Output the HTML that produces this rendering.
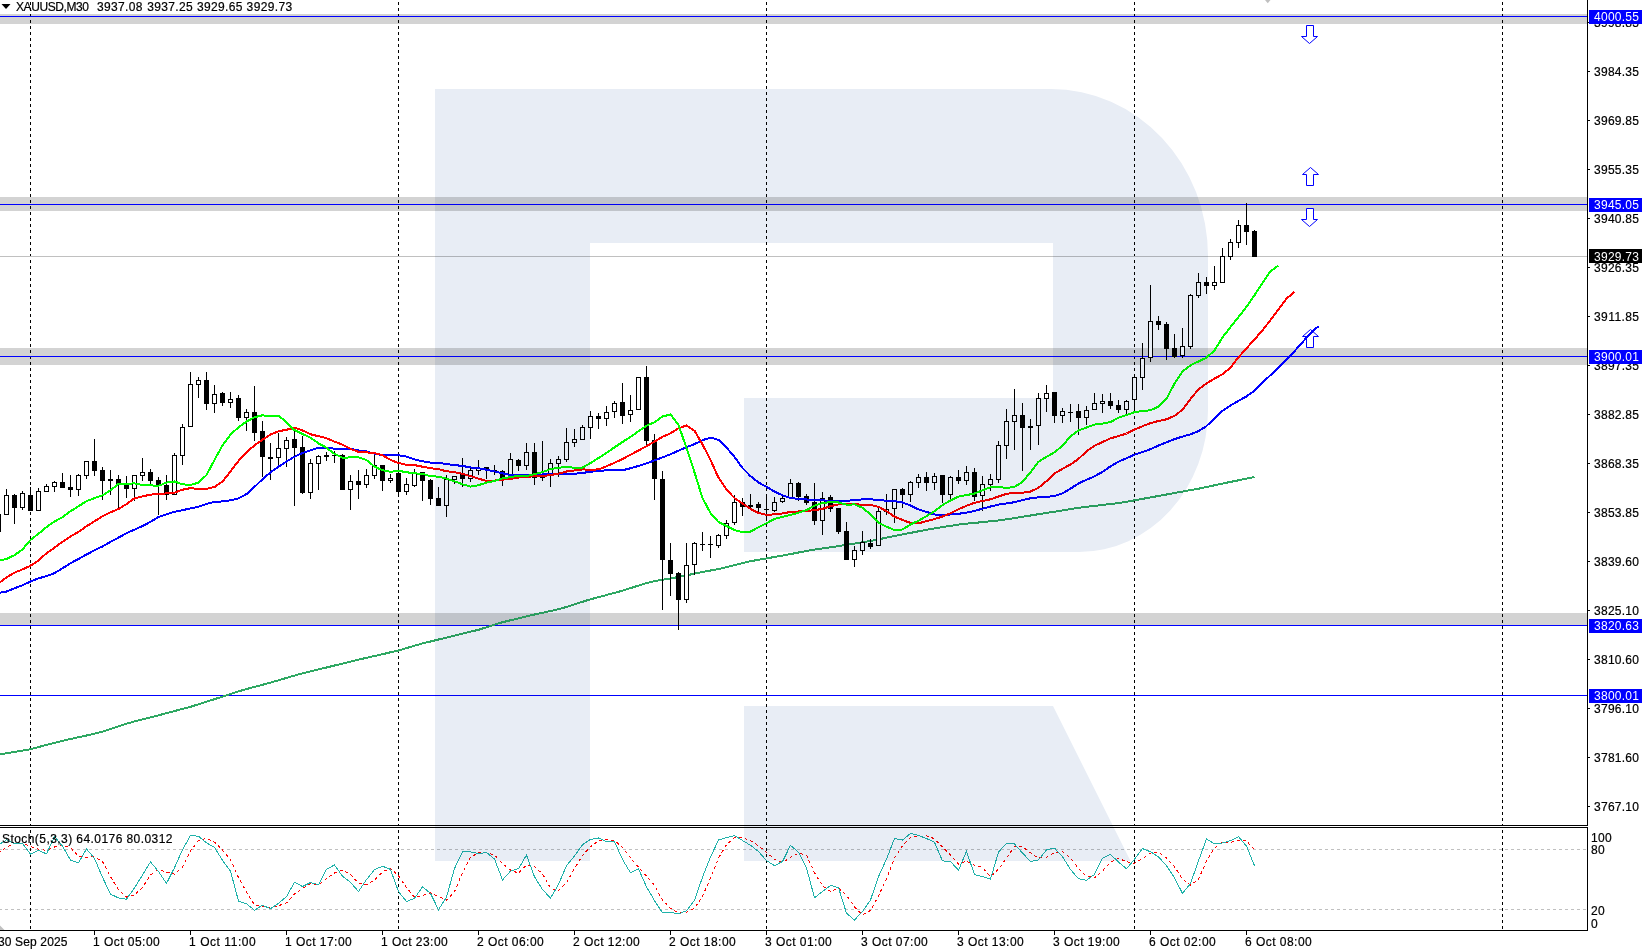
<!DOCTYPE html>
<html><head><meta charset="utf-8"><title>XAUUSD,M30</title>
<style>html,body{margin:0;padding:0;background:#fff;width:1642px;height:951px;overflow:hidden;position:relative}</style>
</head><body>
<svg width="1642" height="951" viewBox="0 0 1642 951" style="position:absolute;left:0;top:0"><rect x="0" y="0" width="1642" height="951" fill="#fff"/><rect x="0" y="14" width="1587" height="10" fill="#d3d3d3"/><rect x="0" y="197" width="1587" height="14" fill="#d3d3d3"/><rect x="0" y="348" width="1587" height="17" fill="#d3d3d3"/><rect x="0" y="613" width="1587" height="12" fill="#d3d3d3"/><g shape-rendering="crispEdges"><line x1="0" y1="849.5" x2="1587" y2="849.5" stroke="#c0c0c0" stroke-width="1" stroke-dasharray="3 3" stroke-dashoffset="1"/><line x1="0" y1="909.5" x2="1587" y2="909.5" stroke="#c0c0c0" stroke-width="1" stroke-dasharray="3 3" stroke-dashoffset="1"/></g><line x1="30.5" y1="0" x2="30.5" y2="825" stroke="#000" stroke-width="1" stroke-dasharray="3 3" stroke-dashoffset="4" shape-rendering="crispEdges"/><line x1="30.5" y1="828" x2="30.5" y2="930" stroke="#000" stroke-width="1" stroke-dasharray="3 3" stroke-dashoffset="4" shape-rendering="crispEdges"/><line x1="398.5" y1="0" x2="398.5" y2="825" stroke="#000" stroke-width="1" stroke-dasharray="3 3" stroke-dashoffset="4" shape-rendering="crispEdges"/><line x1="398.5" y1="828" x2="398.5" y2="930" stroke="#000" stroke-width="1" stroke-dasharray="3 3" stroke-dashoffset="4" shape-rendering="crispEdges"/><line x1="766.5" y1="0" x2="766.5" y2="825" stroke="#000" stroke-width="1" stroke-dasharray="3 3" stroke-dashoffset="4" shape-rendering="crispEdges"/><line x1="766.5" y1="828" x2="766.5" y2="930" stroke="#000" stroke-width="1" stroke-dasharray="3 3" stroke-dashoffset="4" shape-rendering="crispEdges"/><line x1="1134.5" y1="0" x2="1134.5" y2="825" stroke="#000" stroke-width="1" stroke-dasharray="3 3" stroke-dashoffset="4" shape-rendering="crispEdges"/><line x1="1134.5" y1="828" x2="1134.5" y2="930" stroke="#000" stroke-width="1" stroke-dasharray="3 3" stroke-dashoffset="4" shape-rendering="crispEdges"/><line x1="1502.5" y1="0" x2="1502.5" y2="825" stroke="#000" stroke-width="1" stroke-dasharray="3 3" stroke-dashoffset="4" shape-rendering="crispEdges"/><line x1="1502.5" y1="828" x2="1502.5" y2="930" stroke="#000" stroke-width="1" stroke-dasharray="3 3" stroke-dashoffset="4" shape-rendering="crispEdges"/><g shape-rendering="crispEdges"><rect x="0" y="16" width="1587" height="1" fill="#0000ff"/><rect x="0" y="204" width="1587" height="1" fill="#0000ff"/><rect x="0" y="356" width="1587" height="1" fill="#0000ff"/><rect x="0" y="625" width="1587" height="1" fill="#0000ff"/><rect x="0" y="695" width="1587" height="1" fill="#0000ff"/><rect x="0" y="256" width="1587" height="1" fill="#c0c0c0"/></g><polyline points="-9.5,756.0 -1.5,754.6 6.5,753.3 14.5,751.9 22.5,750.6 30.5,749.2 38.5,747.1 46.5,744.9 54.5,742.8 62.5,740.8 70.5,739.0 78.5,737.2 86.5,735.5 94.5,733.7 102.5,731.7 110.5,729.1 118.5,726.4 126.5,723.7 134.5,721.4 142.5,719.4 150.5,717.3 158.5,715.3 166.5,713.2 174.5,711.1 182.5,708.9 190.5,706.8 198.5,704.3 206.5,701.7 214.5,699.2 222.5,696.6 230.5,694.0 238.5,691.4 246.5,689.1 254.5,686.9 262.5,684.8 270.5,682.6 278.5,680.3 286.5,677.9 294.5,675.6 302.5,673.3 310.5,671.4 318.5,669.4 326.5,667.5 334.5,665.5 342.5,663.6 350.5,661.6 358.5,659.7 366.5,657.8 374.5,656.0 382.5,654.2 390.5,652.3 398.5,650.5 406.5,648.1 414.5,645.7 422.5,643.4 430.5,641.5 438.5,639.5 446.5,637.6 454.5,635.6 462.5,633.7 470.5,631.7 478.5,629.8 486.5,627.3 494.5,624.7 502.5,622.2 510.5,620.3 518.5,618.3 526.5,616.4 534.5,614.5 542.5,612.8 550.5,611.0 558.5,609.2 566.5,606.9 574.5,604.4 582.5,601.8 590.5,599.3 598.5,597.2 606.5,595.0 614.5,592.9 622.5,590.7 630.5,588.1 638.5,585.6 646.5,583.1 654.5,581.1 662.5,579.8 670.5,578.4 678.5,577.0 686.5,575.4 694.5,573.6 702.5,571.9 710.5,570.5 718.5,569.1 726.5,567.2 734.5,565.2 742.5,563.2 750.5,561.2 758.5,559.8 766.5,558.4 774.5,557.0 782.5,555.6 790.5,554.1 798.5,552.5 806.5,551.0 814.5,549.6 822.5,548.4 830.5,547.3 838.5,546.1 846.5,544.8 854.5,543.6 862.5,542.3 870.5,541.0 878.5,539.3 886.5,537.7 894.5,536.0 902.5,534.4 910.5,532.9 918.5,531.3 926.5,529.8 934.5,528.4 942.5,527.1 950.5,525.9 958.5,524.6 966.5,523.7 974.5,522.9 982.5,522.1 990.5,521.3 998.5,520.5 1006.5,519.3 1014.5,518.1 1022.5,516.8 1030.5,515.5 1038.5,514.2 1046.5,512.9 1054.5,511.7 1062.5,510.4 1070.5,509.1 1078.5,507.8 1086.5,506.8 1094.5,505.9 1102.5,505.0 1110.5,504.0 1118.5,503.1 1126.5,501.8 1134.5,500.3 1142.5,498.9 1150.5,497.4 1158.5,496.0 1166.5,494.5 1174.5,493.0 1182.5,491.6 1190.5,490.1 1198.5,488.7 1206.5,487.0 1214.5,485.3 1222.5,483.6 1230.5,481.9 1238.5,480.3 1246.5,478.6 1254.5,477.0" fill="none" stroke="#2ea862" stroke-width="2" stroke-linejoin="round" shape-rendering="crispEdges"/><g shape-rendering="crispEdges"><rect x="-2" y="514" width="1" height="19" fill="#000"/><rect x="-4" y="514" width="5" height="18" fill="#000"/><rect x="6" y="489" width="1" height="26" fill="#000"/><rect x="4" y="495" width="5" height="20" fill="#000"/><rect x="5" y="496" width="3" height="18" fill="#fff"/><rect x="14" y="494" width="1" height="30" fill="#000"/><rect x="12" y="495" width="5" height="13" fill="#000"/><rect x="22" y="491" width="1" height="19" fill="#000"/><rect x="20" y="493" width="5" height="15" fill="#000"/><rect x="21" y="494" width="3" height="13" fill="#fff"/><rect x="30" y="487" width="1" height="24" fill="#000"/><rect x="28" y="495" width="5" height="16" fill="#000"/><rect x="38" y="488" width="1" height="23" fill="#000"/><rect x="36" y="491" width="5" height="20" fill="#000"/><rect x="37" y="492" width="3" height="18" fill="#fff"/><rect x="46" y="484" width="1" height="8" fill="#000"/><rect x="44" y="486" width="5" height="6" fill="#000"/><rect x="45" y="487" width="3" height="4" fill="#fff"/><rect x="54" y="481" width="1" height="11" fill="#000"/><rect x="52" y="482" width="5" height="5" fill="#000"/><rect x="53" y="483" width="3" height="3" fill="#fff"/><rect x="62" y="473" width="1" height="15" fill="#000"/><rect x="60" y="482" width="5" height="6" fill="#000"/><rect x="70" y="475" width="1" height="22" fill="#000"/><rect x="68" y="487" width="5" height="3" fill="#000"/><rect x="78" y="474" width="1" height="22" fill="#000"/><rect x="76" y="475" width="5" height="15" fill="#000"/><rect x="77" y="476" width="3" height="13" fill="#fff"/><rect x="86" y="461" width="1" height="18" fill="#000"/><rect x="84" y="461" width="5" height="15" fill="#000"/><rect x="85" y="462" width="3" height="13" fill="#fff"/><rect x="94" y="439" width="1" height="37" fill="#000"/><rect x="92" y="461" width="5" height="10" fill="#000"/><rect x="102" y="467" width="1" height="33" fill="#000"/><rect x="100" y="470" width="5" height="11" fill="#000"/><rect x="110" y="470" width="1" height="25" fill="#000"/><rect x="108" y="479" width="5" height="2" fill="#000"/><rect x="118" y="475" width="1" height="33" fill="#000"/><rect x="116" y="479" width="5" height="6" fill="#000"/><rect x="126" y="476" width="1" height="22" fill="#000"/><rect x="124" y="485" width="5" height="4" fill="#000"/><rect x="134" y="475" width="1" height="26" fill="#000"/><rect x="132" y="475" width="5" height="14" fill="#000"/><rect x="133" y="476" width="3" height="12" fill="#fff"/><rect x="142" y="458" width="1" height="23" fill="#000"/><rect x="140" y="472" width="5" height="4" fill="#000"/><rect x="141" y="473" width="3" height="2" fill="#fff"/><rect x="150" y="469" width="1" height="16" fill="#000"/><rect x="148" y="472" width="5" height="9" fill="#000"/><rect x="158" y="477" width="1" height="38" fill="#000"/><rect x="156" y="480" width="5" height="6" fill="#000"/><rect x="166" y="475" width="1" height="25" fill="#000"/><rect x="164" y="485" width="5" height="10" fill="#000"/><rect x="174" y="453" width="1" height="42" fill="#000"/><rect x="172" y="455" width="5" height="40" fill="#000"/><rect x="173" y="456" width="3" height="38" fill="#fff"/><rect x="182" y="424" width="1" height="41" fill="#000"/><rect x="180" y="427" width="5" height="29" fill="#000"/><rect x="181" y="428" width="3" height="27" fill="#fff"/><rect x="190" y="372" width="1" height="55" fill="#000"/><rect x="188" y="384" width="5" height="43" fill="#000"/><rect x="189" y="385" width="3" height="41" fill="#fff"/><rect x="198" y="377" width="1" height="21" fill="#000"/><rect x="196" y="380" width="5" height="5" fill="#000"/><rect x="197" y="381" width="3" height="3" fill="#fff"/><rect x="206" y="372" width="1" height="38" fill="#000"/><rect x="204" y="380" width="5" height="24" fill="#000"/><rect x="214" y="385" width="1" height="28" fill="#000"/><rect x="212" y="394" width="5" height="10" fill="#000"/><rect x="213" y="395" width="3" height="8" fill="#fff"/><rect x="222" y="392" width="1" height="14" fill="#000"/><rect x="220" y="393" width="5" height="10" fill="#000"/><rect x="230" y="392" width="1" height="16" fill="#000"/><rect x="228" y="399" width="5" height="4" fill="#000"/><rect x="229" y="400" width="3" height="2" fill="#fff"/><rect x="238" y="395" width="1" height="26" fill="#000"/><rect x="236" y="398" width="5" height="20" fill="#000"/><rect x="246" y="409" width="1" height="22" fill="#000"/><rect x="244" y="412" width="5" height="6" fill="#000"/><rect x="245" y="413" width="3" height="4" fill="#fff"/><rect x="254" y="386" width="1" height="55" fill="#000"/><rect x="252" y="412" width="5" height="21" fill="#000"/><rect x="262" y="421" width="1" height="56" fill="#000"/><rect x="260" y="431" width="5" height="26" fill="#000"/><rect x="270" y="443" width="1" height="37" fill="#000"/><rect x="268" y="457" width="5" height="2" fill="#000"/><rect x="278" y="433" width="1" height="34" fill="#000"/><rect x="276" y="448" width="5" height="10" fill="#000"/><rect x="277" y="449" width="3" height="8" fill="#fff"/><rect x="286" y="437" width="1" height="30" fill="#000"/><rect x="284" y="440" width="5" height="9" fill="#000"/><rect x="285" y="441" width="3" height="7" fill="#fff"/><rect x="294" y="428" width="1" height="78" fill="#000"/><rect x="292" y="439" width="5" height="9" fill="#000"/><rect x="302" y="436" width="1" height="58" fill="#000"/><rect x="300" y="447" width="5" height="46" fill="#000"/><rect x="310" y="459" width="1" height="40" fill="#000"/><rect x="308" y="463" width="5" height="30" fill="#000"/><rect x="309" y="464" width="3" height="28" fill="#fff"/><rect x="318" y="455" width="1" height="35" fill="#000"/><rect x="316" y="456" width="5" height="8" fill="#000"/><rect x="317" y="457" width="3" height="6" fill="#fff"/><rect x="326" y="452" width="1" height="9" fill="#000"/><rect x="324" y="455" width="5" height="2" fill="#000"/><rect x="334" y="451" width="1" height="12" fill="#000"/><rect x="332" y="455" width="5" height="1" fill="#000"/><rect x="342" y="454" width="1" height="36" fill="#000"/><rect x="340" y="455" width="5" height="35" fill="#000"/><rect x="350" y="475" width="1" height="35" fill="#000"/><rect x="348" y="481" width="5" height="9" fill="#000"/><rect x="349" y="482" width="3" height="7" fill="#fff"/><rect x="358" y="470" width="1" height="29" fill="#000"/><rect x="356" y="481" width="5" height="4" fill="#000"/><rect x="366" y="469" width="1" height="19" fill="#000"/><rect x="364" y="475" width="5" height="10" fill="#000"/><rect x="365" y="476" width="3" height="8" fill="#fff"/><rect x="374" y="454" width="1" height="25" fill="#000"/><rect x="372" y="465" width="5" height="11" fill="#000"/><rect x="373" y="466" width="3" height="9" fill="#fff"/><rect x="382" y="465" width="1" height="26" fill="#000"/><rect x="380" y="465" width="5" height="16" fill="#000"/><rect x="390" y="474" width="1" height="9" fill="#000"/><rect x="388" y="478" width="5" height="3" fill="#000"/><rect x="389" y="479" width="3" height="1" fill="#fff"/><rect x="398" y="455" width="1" height="41" fill="#000"/><rect x="396" y="473" width="5" height="19" fill="#000"/><rect x="406" y="478" width="1" height="17" fill="#000"/><rect x="404" y="484" width="5" height="8" fill="#000"/><rect x="405" y="485" width="3" height="6" fill="#fff"/><rect x="414" y="469" width="1" height="18" fill="#000"/><rect x="412" y="473" width="5" height="13" fill="#000"/><rect x="413" y="474" width="3" height="11" fill="#fff"/><rect x="422" y="472" width="1" height="29" fill="#000"/><rect x="420" y="472" width="5" height="9" fill="#000"/><rect x="430" y="479" width="1" height="26" fill="#000"/><rect x="428" y="480" width="5" height="19" fill="#000"/><rect x="438" y="487" width="1" height="19" fill="#000"/><rect x="436" y="498" width="5" height="8" fill="#000"/><rect x="446" y="475" width="1" height="42" fill="#000"/><rect x="444" y="479" width="5" height="27" fill="#000"/><rect x="445" y="480" width="3" height="25" fill="#fff"/><rect x="454" y="476" width="1" height="8" fill="#000"/><rect x="452" y="476" width="5" height="4" fill="#000"/><rect x="453" y="477" width="3" height="2" fill="#fff"/><rect x="462" y="458" width="1" height="29" fill="#000"/><rect x="460" y="474" width="5" height="5" fill="#000"/><rect x="470" y="467" width="1" height="15" fill="#000"/><rect x="468" y="470" width="5" height="9" fill="#000"/><rect x="469" y="471" width="3" height="7" fill="#fff"/><rect x="478" y="460" width="1" height="15" fill="#000"/><rect x="476" y="468" width="5" height="3" fill="#000"/><rect x="477" y="469" width="3" height="1" fill="#fff"/><rect x="486" y="467" width="1" height="12" fill="#000"/><rect x="484" y="467" width="5" height="3" fill="#000"/><rect x="494" y="465" width="1" height="10" fill="#000"/><rect x="492" y="470" width="5" height="1" fill="#000"/><rect x="502" y="470" width="1" height="16" fill="#000"/><rect x="500" y="471" width="5" height="7" fill="#000"/><rect x="510" y="453" width="1" height="25" fill="#000"/><rect x="508" y="459" width="5" height="19" fill="#000"/><rect x="509" y="460" width="3" height="17" fill="#fff"/><rect x="518" y="459" width="1" height="12" fill="#000"/><rect x="516" y="460" width="5" height="6" fill="#000"/><rect x="526" y="443" width="1" height="27" fill="#000"/><rect x="524" y="452" width="5" height="14" fill="#000"/><rect x="525" y="453" width="3" height="12" fill="#fff"/><rect x="534" y="443" width="1" height="42" fill="#000"/><rect x="532" y="452" width="5" height="26" fill="#000"/><rect x="542" y="441" width="1" height="40" fill="#000"/><rect x="540" y="475" width="5" height="3" fill="#000"/><rect x="541" y="476" width="3" height="1" fill="#fff"/><rect x="550" y="459" width="1" height="28" fill="#000"/><rect x="548" y="463" width="5" height="13" fill="#000"/><rect x="549" y="464" width="3" height="11" fill="#fff"/><rect x="558" y="456" width="1" height="21" fill="#000"/><rect x="556" y="459" width="5" height="5" fill="#000"/><rect x="557" y="460" width="3" height="3" fill="#fff"/><rect x="566" y="428" width="1" height="34" fill="#000"/><rect x="564" y="442" width="5" height="18" fill="#000"/><rect x="565" y="443" width="3" height="16" fill="#fff"/><rect x="574" y="429" width="1" height="18" fill="#000"/><rect x="572" y="439" width="5" height="4" fill="#000"/><rect x="573" y="440" width="3" height="2" fill="#fff"/><rect x="582" y="425" width="1" height="15" fill="#000"/><rect x="580" y="427" width="5" height="13" fill="#000"/><rect x="581" y="428" width="3" height="11" fill="#fff"/><rect x="590" y="411" width="1" height="28" fill="#000"/><rect x="588" y="416" width="5" height="12" fill="#000"/><rect x="589" y="417" width="3" height="10" fill="#fff"/><rect x="598" y="413" width="1" height="16" fill="#000"/><rect x="596" y="416" width="5" height="3" fill="#000"/><rect x="606" y="406" width="1" height="20" fill="#000"/><rect x="604" y="412" width="5" height="7" fill="#000"/><rect x="605" y="413" width="3" height="5" fill="#fff"/><rect x="614" y="401" width="1" height="17" fill="#000"/><rect x="612" y="403" width="5" height="9" fill="#000"/><rect x="613" y="404" width="3" height="7" fill="#fff"/><rect x="622" y="383" width="1" height="41" fill="#000"/><rect x="620" y="402" width="5" height="14" fill="#000"/><rect x="630" y="395" width="1" height="27" fill="#000"/><rect x="628" y="410" width="5" height="5" fill="#000"/><rect x="629" y="411" width="3" height="3" fill="#fff"/><rect x="638" y="377" width="1" height="33" fill="#000"/><rect x="636" y="377" width="5" height="33" fill="#000"/><rect x="637" y="378" width="3" height="31" fill="#fff"/><rect x="646" y="366" width="1" height="81" fill="#000"/><rect x="644" y="377" width="5" height="64" fill="#000"/><rect x="654" y="434" width="1" height="66" fill="#000"/><rect x="652" y="440" width="5" height="39" fill="#000"/><rect x="662" y="471" width="1" height="139" fill="#000"/><rect x="660" y="479" width="5" height="81" fill="#000"/><rect x="670" y="543" width="1" height="53" fill="#000"/><rect x="668" y="560" width="5" height="14" fill="#000"/><rect x="678" y="572" width="1" height="58" fill="#000"/><rect x="676" y="573" width="5" height="27" fill="#000"/><rect x="686" y="543" width="1" height="60" fill="#000"/><rect x="684" y="565" width="5" height="35" fill="#000"/><rect x="685" y="566" width="3" height="33" fill="#fff"/><rect x="694" y="542" width="1" height="33" fill="#000"/><rect x="692" y="543" width="5" height="22" fill="#000"/><rect x="693" y="544" width="3" height="20" fill="#fff"/><rect x="702" y="532" width="1" height="19" fill="#000"/><rect x="700" y="544" width="5" height="1" fill="#000"/><rect x="710" y="536" width="1" height="22" fill="#000"/><rect x="708" y="544" width="5" height="1" fill="#000"/><rect x="718" y="534" width="1" height="14" fill="#000"/><rect x="716" y="535" width="5" height="11" fill="#000"/><rect x="717" y="536" width="3" height="9" fill="#fff"/><rect x="726" y="520" width="1" height="19" fill="#000"/><rect x="724" y="523" width="5" height="13" fill="#000"/><rect x="725" y="524" width="3" height="11" fill="#fff"/><rect x="734" y="495" width="1" height="30" fill="#000"/><rect x="732" y="502" width="5" height="21" fill="#000"/><rect x="733" y="503" width="3" height="19" fill="#fff"/><rect x="742" y="498" width="1" height="18" fill="#000"/><rect x="740" y="502" width="5" height="5" fill="#000"/><rect x="750" y="494" width="1" height="16" fill="#000"/><rect x="748" y="505" width="5" height="2" fill="#000"/><rect x="758" y="502" width="1" height="12" fill="#000"/><rect x="756" y="504" width="5" height="4" fill="#000"/><rect x="766" y="495" width="1" height="26" fill="#000"/><rect x="764" y="509" width="5" height="1" fill="#000"/><rect x="774" y="497" width="1" height="15" fill="#000"/><rect x="772" y="502" width="5" height="9" fill="#000"/><rect x="773" y="503" width="3" height="7" fill="#fff"/><rect x="782" y="496" width="1" height="7" fill="#000"/><rect x="780" y="498" width="5" height="4" fill="#000"/><rect x="781" y="499" width="3" height="2" fill="#fff"/><rect x="790" y="479" width="1" height="19" fill="#000"/><rect x="788" y="483" width="5" height="15" fill="#000"/><rect x="789" y="484" width="3" height="13" fill="#fff"/><rect x="798" y="482" width="1" height="19" fill="#000"/><rect x="796" y="483" width="5" height="14" fill="#000"/><rect x="806" y="494" width="1" height="11" fill="#000"/><rect x="804" y="496" width="5" height="7" fill="#000"/><rect x="814" y="483" width="1" height="42" fill="#000"/><rect x="812" y="502" width="5" height="19" fill="#000"/><rect x="822" y="492" width="1" height="43" fill="#000"/><rect x="820" y="498" width="5" height="23" fill="#000"/><rect x="821" y="499" width="3" height="21" fill="#fff"/><rect x="830" y="495" width="1" height="17" fill="#000"/><rect x="828" y="497" width="5" height="12" fill="#000"/><rect x="838" y="508" width="1" height="26" fill="#000"/><rect x="836" y="508" width="5" height="24" fill="#000"/><rect x="846" y="522" width="1" height="38" fill="#000"/><rect x="844" y="531" width="5" height="29" fill="#000"/><rect x="854" y="546" width="1" height="21" fill="#000"/><rect x="852" y="550" width="5" height="10" fill="#000"/><rect x="853" y="551" width="3" height="8" fill="#fff"/><rect x="862" y="531" width="1" height="24" fill="#000"/><rect x="860" y="542" width="5" height="9" fill="#000"/><rect x="861" y="543" width="3" height="7" fill="#fff"/><rect x="870" y="539" width="1" height="10" fill="#000"/><rect x="868" y="543" width="5" height="4" fill="#000"/><rect x="878" y="508" width="1" height="38" fill="#000"/><rect x="876" y="511" width="5" height="35" fill="#000"/><rect x="877" y="512" width="3" height="33" fill="#fff"/><rect x="886" y="494" width="1" height="21" fill="#000"/><rect x="884" y="509" width="5" height="3" fill="#000"/><rect x="885" y="510" width="3" height="1" fill="#fff"/><rect x="894" y="489" width="1" height="34" fill="#000"/><rect x="892" y="489" width="5" height="20" fill="#000"/><rect x="893" y="490" width="3" height="18" fill="#fff"/><rect x="902" y="488" width="1" height="20" fill="#000"/><rect x="900" y="489" width="5" height="6" fill="#000"/><rect x="910" y="481" width="1" height="21" fill="#000"/><rect x="908" y="482" width="5" height="13" fill="#000"/><rect x="909" y="483" width="3" height="11" fill="#fff"/><rect x="918" y="474" width="1" height="14" fill="#000"/><rect x="916" y="477" width="5" height="6" fill="#000"/><rect x="917" y="478" width="3" height="4" fill="#fff"/><rect x="926" y="472" width="1" height="19" fill="#000"/><rect x="924" y="477" width="5" height="6" fill="#000"/><rect x="934" y="473" width="1" height="17" fill="#000"/><rect x="932" y="476" width="5" height="7" fill="#000"/><rect x="933" y="477" width="3" height="5" fill="#fff"/><rect x="942" y="475" width="1" height="28" fill="#000"/><rect x="940" y="475" width="5" height="20" fill="#000"/><rect x="950" y="476" width="1" height="23" fill="#000"/><rect x="948" y="477" width="5" height="18" fill="#000"/><rect x="949" y="478" width="3" height="16" fill="#fff"/><rect x="958" y="470" width="1" height="14" fill="#000"/><rect x="956" y="477" width="5" height="4" fill="#000"/><rect x="966" y="466" width="1" height="19" fill="#000"/><rect x="964" y="472" width="5" height="9" fill="#000"/><rect x="965" y="473" width="3" height="7" fill="#fff"/><rect x="974" y="468" width="1" height="33" fill="#000"/><rect x="972" y="472" width="5" height="25" fill="#000"/><rect x="982" y="476" width="1" height="35" fill="#000"/><rect x="980" y="484" width="5" height="12" fill="#000"/><rect x="981" y="485" width="3" height="10" fill="#fff"/><rect x="990" y="474" width="1" height="17" fill="#000"/><rect x="988" y="479" width="5" height="6" fill="#000"/><rect x="989" y="480" width="3" height="4" fill="#fff"/><rect x="998" y="441" width="1" height="42" fill="#000"/><rect x="996" y="445" width="5" height="35" fill="#000"/><rect x="997" y="446" width="3" height="33" fill="#fff"/><rect x="1006" y="409" width="1" height="50" fill="#000"/><rect x="1004" y="421" width="5" height="25" fill="#000"/><rect x="1005" y="422" width="3" height="23" fill="#fff"/><rect x="1014" y="389" width="1" height="61" fill="#000"/><rect x="1012" y="415" width="5" height="7" fill="#000"/><rect x="1013" y="416" width="3" height="5" fill="#fff"/><rect x="1022" y="403" width="1" height="68" fill="#000"/><rect x="1020" y="415" width="5" height="13" fill="#000"/><rect x="1030" y="419" width="1" height="31" fill="#000"/><rect x="1028" y="426" width="5" height="2" fill="#000"/><rect x="1038" y="393" width="1" height="52" fill="#000"/><rect x="1036" y="398" width="5" height="28" fill="#000"/><rect x="1037" y="399" width="3" height="26" fill="#fff"/><rect x="1046" y="385" width="1" height="27" fill="#000"/><rect x="1044" y="393" width="5" height="6" fill="#000"/><rect x="1045" y="394" width="3" height="4" fill="#fff"/><rect x="1054" y="392" width="1" height="31" fill="#000"/><rect x="1052" y="392" width="5" height="24" fill="#000"/><rect x="1062" y="408" width="1" height="15" fill="#000"/><rect x="1060" y="411" width="5" height="5" fill="#000"/><rect x="1061" y="412" width="3" height="3" fill="#fff"/><rect x="1070" y="404" width="1" height="18" fill="#000"/><rect x="1068" y="412" width="5" height="1" fill="#000"/><rect x="1078" y="404" width="1" height="31" fill="#000"/><rect x="1076" y="411" width="5" height="7" fill="#000"/><rect x="1086" y="406" width="1" height="19" fill="#000"/><rect x="1084" y="410" width="5" height="8" fill="#000"/><rect x="1085" y="411" width="3" height="6" fill="#fff"/><rect x="1094" y="393" width="1" height="17" fill="#000"/><rect x="1092" y="403" width="5" height="7" fill="#000"/><rect x="1093" y="404" width="3" height="5" fill="#fff"/><rect x="1102" y="394" width="1" height="19" fill="#000"/><rect x="1100" y="401" width="5" height="3" fill="#000"/><rect x="1101" y="402" width="3" height="1" fill="#fff"/><rect x="1110" y="393" width="1" height="16" fill="#000"/><rect x="1108" y="401" width="5" height="5" fill="#000"/><rect x="1118" y="400" width="1" height="13" fill="#000"/><rect x="1116" y="405" width="5" height="5" fill="#000"/><rect x="1126" y="400" width="1" height="15" fill="#000"/><rect x="1124" y="401" width="5" height="9" fill="#000"/><rect x="1125" y="402" width="3" height="7" fill="#fff"/><rect x="1134" y="374" width="1" height="37" fill="#000"/><rect x="1132" y="377" width="5" height="23" fill="#000"/><rect x="1133" y="378" width="3" height="21" fill="#fff"/><rect x="1142" y="343" width="1" height="47" fill="#000"/><rect x="1140" y="358" width="5" height="20" fill="#000"/><rect x="1141" y="359" width="3" height="18" fill="#fff"/><rect x="1150" y="285" width="1" height="77" fill="#000"/><rect x="1148" y="321" width="5" height="37" fill="#000"/><rect x="1149" y="322" width="3" height="35" fill="#fff"/><rect x="1158" y="316" width="1" height="14" fill="#000"/><rect x="1156" y="321" width="5" height="4" fill="#000"/><rect x="1166" y="322" width="1" height="38" fill="#000"/><rect x="1164" y="324" width="5" height="25" fill="#000"/><rect x="1174" y="334" width="1" height="24" fill="#000"/><rect x="1172" y="348" width="5" height="9" fill="#000"/><rect x="1182" y="328" width="1" height="30" fill="#000"/><rect x="1180" y="346" width="5" height="10" fill="#000"/><rect x="1181" y="347" width="3" height="8" fill="#fff"/><rect x="1190" y="294" width="1" height="55" fill="#000"/><rect x="1188" y="295" width="5" height="52" fill="#000"/><rect x="1189" y="296" width="3" height="50" fill="#fff"/><rect x="1198" y="273" width="1" height="25" fill="#000"/><rect x="1196" y="282" width="5" height="14" fill="#000"/><rect x="1197" y="283" width="3" height="12" fill="#fff"/><rect x="1206" y="277" width="1" height="17" fill="#000"/><rect x="1204" y="282" width="5" height="4" fill="#000"/><rect x="1214" y="266" width="1" height="24" fill="#000"/><rect x="1212" y="282" width="5" height="4" fill="#000"/><rect x="1213" y="283" width="3" height="2" fill="#fff"/><rect x="1222" y="248" width="1" height="35" fill="#000"/><rect x="1220" y="256" width="5" height="27" fill="#000"/><rect x="1221" y="257" width="3" height="25" fill="#fff"/><rect x="1230" y="239" width="1" height="21" fill="#000"/><rect x="1228" y="242" width="5" height="15" fill="#000"/><rect x="1229" y="243" width="3" height="13" fill="#fff"/><rect x="1238" y="220" width="1" height="28" fill="#000"/><rect x="1236" y="225" width="5" height="18" fill="#000"/><rect x="1237" y="226" width="3" height="16" fill="#fff"/><rect x="1246" y="203" width="1" height="42" fill="#000"/><rect x="1244" y="225" width="5" height="7" fill="#000"/><rect x="1254" y="230" width="1" height="27" fill="#000"/><rect x="1252" y="231" width="5" height="26" fill="#000"/></g><path d="M1306.5,25.5 L1313.5,25.5 L1313.5,36.5 L1317.5,36.5 L1309.5,43.5 L1301.5,36.5 L1306.5,36.5 Z" fill="#fff" stroke="#0000ff" stroke-width="1"/><path d="M1310.5,167.5 L1318.5,174.5 L1313.5,174.5 L1313.5,185.5 L1306.5,185.5 L1306.5,174.5 L1302.5,174.5 Z" fill="#fff" stroke="#0000ff" stroke-width="1"/><path d="M1306.5,208.5 L1313.5,208.5 L1313.5,219.5 L1317.5,219.5 L1309.5,226.5 L1301.5,219.5 L1306.5,219.5 Z" fill="#fff" stroke="#0000ff" stroke-width="1"/><path d="M1310.5,329.5 L1318.5,336.5 L1313.5,336.5 L1313.5,347.5 L1306.5,347.5 L1306.5,336.5 L1302.5,336.5 Z" fill="#fff" stroke="#0000ff" stroke-width="1"/><polyline points="-10.0,594.5 -1.5,593.0 6.5,591.5 14.5,588.3 22.5,585.2 30.5,581.5 38.5,578.3 46.5,576.2 54.5,573.1 62.5,568.3 70.5,563.2 78.5,559.0 86.5,554.5 94.5,550.3 102.5,546.4 110.5,541.8 118.5,537.6 126.5,533.2 134.5,529.6 142.5,526.1 150.5,521.8 158.5,516.9 166.5,514.3 174.5,511.8 182.5,510.2 190.5,508.4 198.5,506.8 206.5,504.0 214.5,501.9 222.5,501.4 230.5,500.3 238.5,498.3 246.5,494.1 254.5,486.9 262.5,479.2 270.5,472.4 278.5,466.7 286.5,461.5 294.5,456.7 302.5,453.0 310.5,450.4 318.5,447.6 326.5,447.7 334.5,448.7 342.5,448.8 350.5,449.0 358.5,450.4 366.5,451.5 374.5,453.6 382.5,455.1 390.5,455.2 398.5,455.3 406.5,456.6 414.5,459.3 422.5,461.3 430.5,462.6 438.5,462.9 446.5,464.0 454.5,465.1 462.5,465.9 470.5,467.5 478.5,468.3 486.5,469.7 494.5,471.4 502.5,473.3 510.5,475.1 518.5,475.4 526.5,475.2 534.5,475.1 542.5,474.5 550.5,474.4 558.5,474.1 566.5,474.4 574.5,473.7 582.5,473.0 590.5,471.7 598.5,471.1 606.5,470.3 614.5,470.5 622.5,470.2 630.5,468.3 638.5,465.9 646.5,463.4 654.5,460.4 662.5,457.4 670.5,454.2 678.5,450.7 686.5,447.1 694.5,444.1 702.5,440.2 710.5,437.6 718.5,439.9 726.5,447.6 734.5,457.0 742.5,468.0 750.5,476.1 758.5,482.4 766.5,486.9 774.5,491.5 782.5,495.3 790.5,497.9 798.5,498.9 806.5,499.5 814.5,499.7 822.5,500.3 830.5,500.9 838.5,501.1 846.5,501.0 854.5,500.0 862.5,499.4 870.5,499.4 878.5,499.7 886.5,500.8 894.5,501.0 902.5,502.5 910.5,505.5 918.5,509.4 926.5,511.9 934.5,514.4 942.5,515.3 950.5,514.5 958.5,513.8 966.5,512.6 974.5,511.0 982.5,508.6 990.5,506.5 998.5,504.6 1006.5,503.4 1014.5,502.2 1022.5,500.2 1030.5,498.3 1038.5,497.3 1046.5,497.0 1054.5,495.9 1062.5,493.3 1070.5,488.7 1078.5,483.4 1086.5,479.8 1094.5,476.3 1102.5,471.9 1110.5,466.3 1118.5,461.7 1126.5,458.2 1134.5,454.7 1142.5,452.0 1150.5,449.2 1158.5,445.5 1166.5,442.3 1174.5,439.1 1182.5,436.6 1190.5,434.3 1198.5,431.1 1206.5,426.1 1214.5,418.2 1222.5,410.9 1230.5,405.5 1238.5,400.9 1246.5,396.4 1254.5,390.7 1262.5,382.6 1270.5,375.1 1278.5,367.6 1286.5,359.7 1294.5,351.2 1302.5,342.2 1310.5,333.1 1318.5,326.2" fill="none" stroke="#0000ff" stroke-width="2" stroke-linejoin="round" shape-rendering="crispEdges"/><polyline points="-10.0,589.7 -1.5,583.5 6.5,577.3 14.5,572.6 22.5,569.4 30.5,565.7 38.5,560.5 46.5,553.2 54.5,547.7 62.5,541.8 70.5,536.4 78.5,531.8 86.5,526.3 94.5,521.3 102.5,516.2 110.5,512.4 118.5,509.0 126.5,504.1 134.5,498.3 142.5,496.4 150.5,494.6 158.5,494.2 166.5,493.3 174.5,492.6 182.5,489.7 190.5,488.1 198.5,489.1 206.5,488.9 214.5,487.0 222.5,481.6 230.5,471.4 238.5,460.9 246.5,452.1 254.5,445.4 262.5,439.6 270.5,434.6 278.5,431.2 286.5,429.8 294.5,427.7 302.5,430.4 310.5,434.3 318.5,436.2 326.5,438.2 334.5,441.7 342.5,444.6 350.5,448.9 358.5,451.9 366.5,452.4 374.5,453.0 382.5,455.3 390.5,459.9 398.5,463.0 406.5,464.9 414.5,465.1 422.5,466.7 430.5,468.2 438.5,469.1 446.5,471.3 454.5,472.1 462.5,473.9 470.5,476.1 478.5,478.7 486.5,480.8 494.5,480.6 502.5,479.6 510.5,479.0 518.5,477.5 526.5,477.0 534.5,476.1 542.5,476.3 550.5,475.0 558.5,473.7 566.5,471.5 574.5,470.5 582.5,469.4 590.5,469.8 598.5,469.4 606.5,466.3 614.5,462.8 622.5,459.0 630.5,454.7 638.5,450.5 646.5,446.2 654.5,441.6 662.5,436.8 670.5,433.3 678.5,428.3 686.5,425.5 694.5,430.7 702.5,444.4 710.5,460.0 718.5,477.7 726.5,489.5 734.5,498.1 742.5,503.5 750.5,508.9 758.5,512.9 766.5,515.0 774.5,514.3 782.5,513.4 790.5,512.0 798.5,511.5 806.5,511.0 814.5,510.2 822.5,508.8 830.5,506.2 838.5,504.4 846.5,503.8 854.5,503.8 862.5,505.0 870.5,504.8 878.5,506.8 886.5,511.1 894.5,516.7 902.5,520.0 910.5,522.9 918.5,523.4 926.5,521.1 934.5,519.1 942.5,516.5 950.5,513.3 958.5,509.3 966.5,505.8 974.5,502.8 982.5,501.0 990.5,499.3 998.5,496.5 1006.5,493.9 1014.5,492.7 1022.5,492.8 1030.5,491.5 1038.5,487.8 1046.5,481.1 1054.5,473.4 1062.5,468.8 1070.5,464.5 1078.5,458.9 1086.5,451.3 1094.5,445.8 1102.5,442.0 1110.5,438.4 1118.5,436.1 1126.5,433.5 1134.5,429.5 1142.5,426.2 1150.5,423.1 1158.5,421.0 1166.5,419.3 1174.5,415.9 1182.5,409.7 1190.5,398.9 1198.5,389.4 1206.5,383.3 1214.5,378.6 1222.5,374.2 1230.5,367.6 1238.5,357.3 1246.5,348.3 1254.5,339.5 1262.5,330.2 1270.5,320.1 1278.5,309.3 1286.5,298.7 1294.5,291.7" fill="none" stroke="#ff0000" stroke-width="2" stroke-linejoin="round" shape-rendering="crispEdges"/><polyline points="-10.0,562.7 -1.5,560.8 6.5,558.9 14.5,555.2 22.5,549.4 30.5,539.9 38.5,533.7 46.5,527.1 54.5,521.5 62.5,517.1 70.5,511.2 78.5,506.3 86.5,501.1 94.5,498.1 102.5,495.4 110.5,490.3 118.5,483.8 126.5,483.7 134.5,483.4 142.5,485.0 150.5,485.4 158.5,485.8 166.5,482.6 174.5,481.5 182.5,484.3 190.5,484.9 198.5,482.7 206.5,475.0 214.5,459.9 222.5,445.4 230.5,434.5 238.5,427.3 246.5,421.6 254.5,417.2 262.5,415.3 270.5,416.2 278.5,415.6 286.5,422.3 294.5,430.1 302.5,434.0 310.5,437.6 318.5,443.4 326.5,447.7 334.5,453.9 342.5,457.7 350.5,457.4 358.5,457.3 366.5,460.1 374.5,466.6 382.5,470.2 390.5,471.8 398.5,470.8 406.5,472.2 414.5,473.4 422.5,473.8 430.5,476.3 438.5,476.6 446.5,478.6 454.5,481.3 462.5,484.3 470.5,486.6 478.5,485.2 486.5,482.6 494.5,481.0 502.5,478.3 510.5,477.2 518.5,475.7 526.5,476.2 534.5,474.0 542.5,472.2 550.5,469.0 558.5,468.0 566.5,466.6 574.5,467.9 582.5,467.6 590.5,463.0 598.5,458.0 606.5,452.9 614.5,447.3 622.5,442.0 630.5,436.8 638.5,431.3 646.5,425.7 654.5,422.3 662.5,416.5 670.5,414.5 678.5,424.9 686.5,448.0 694.5,472.3 702.5,498.1 710.5,513.0 718.5,522.0 726.5,525.9 734.5,530.1 742.5,532.2 750.5,531.6 758.5,527.3 766.5,523.2 774.5,519.0 782.5,516.8 790.5,514.9 798.5,512.8 806.5,510.1 814.5,505.7 822.5,502.9 830.5,502.2 838.5,502.5 846.5,504.7 854.5,504.4 862.5,507.7 870.5,514.4 878.5,522.7 886.5,526.7 894.5,530.1 902.5,529.5 910.5,524.5 918.5,520.7 926.5,516.2 934.5,511.2 942.5,505.1 950.5,500.4 958.5,496.6 966.5,495.1 974.5,493.5 982.5,490.2 990.5,487.3 998.5,486.7 1006.5,488.1 1014.5,486.9 1022.5,481.9 1030.5,472.3 1038.5,461.8 1046.5,456.8 1054.5,452.3 1062.5,445.7 1070.5,436.3 1078.5,430.5 1086.5,427.5 1094.5,424.6 1102.5,423.6 1110.5,422.0 1118.5,417.8 1126.5,415.0 1134.5,412.2 1142.5,411.0 1150.5,410.3 1158.5,406.7 1166.5,398.7 1174.5,383.6 1182.5,371.4 1190.5,365.3 1198.5,361.4 1206.5,357.7 1214.5,350.4 1222.5,337.4 1230.5,327.0 1238.5,317.1 1246.5,306.8 1254.5,295.3 1262.5,283.0 1270.5,271.2 1278.5,265.6" fill="none" stroke="#00ff00" stroke-width="2" stroke-linejoin="round" shape-rendering="crispEdges"/><path d="M1265,0 L1270.5,0 L1267.75,3.2 Z" fill="#c0c0c0"/><rect x="1588" y="0" width="54" height="951" fill="#fff"/><rect x="0" y="931" width="1642" height="20" fill="#fff"/><rect x="0" y="826" width="1587" height="1" fill="#fff"/><polyline points="-1.5,853.4 6.5,847.0 14.5,843.7 22.5,843.3 30.5,846.6 38.5,849.1 46.5,850.4 54.5,847.0 62.5,845.5 70.5,847.6 78.5,856.4 86.5,857.3 94.5,856.8 102.5,861.6 110.5,876.6 118.5,889.8 126.5,897.1 134.5,895.0 142.5,887.4 150.5,874.9 158.5,869.5 166.5,872.3 174.5,874.2 182.5,866.9 190.5,851.0 198.5,840.5 206.5,838.2 214.5,842.1 222.5,850.1 230.5,859.6 238.5,877.5 246.5,892.0 254.5,905.0 262.5,906.4 270.5,908.1 278.5,905.7 286.5,902.9 294.5,894.0 302.5,888.5 310.5,883.7 318.5,884.6 326.5,878.8 334.5,873.0 342.5,870.1 350.5,874.4 358.5,883.3 366.5,884.5 374.5,880.3 382.5,871.8 390.5,868.4 398.5,875.8 406.5,887.5 414.5,897.2 422.5,895.5 430.5,892.8 438.5,896.6 446.5,900.1 454.5,891.7 462.5,872.5 470.5,857.4 478.5,852.5 486.5,852.7 494.5,855.0 502.5,863.8 510.5,870.0 518.5,873.2 526.5,864.9 534.5,866.8 542.5,873.8 550.5,888.1 558.5,890.7 566.5,882.7 574.5,868.7 582.5,855.4 590.5,846.7 598.5,840.7 606.5,839.7 614.5,840.4 622.5,847.6 630.5,857.9 638.5,867.1 646.5,876.2 654.5,885.4 662.5,900.0 670.5,908.4 678.5,912.9 686.5,912.3 694.5,908.3 702.5,896.1 710.5,878.1 718.5,858.1 726.5,844.8 734.5,837.7 742.5,837.9 750.5,840.5 758.5,845.8 766.5,852.4 774.5,859.2 782.5,862.6 790.5,857.5 798.5,853.0 806.5,855.2 814.5,872.7 822.5,885.8 830.5,891.6 838.5,888.2 846.5,895.4 854.5,906.9 862.5,914.8 870.5,910.4 878.5,896.0 886.5,878.6 894.5,858.1 902.5,845.9 910.5,837.3 918.5,836.3 926.5,835.8 934.5,838.7 942.5,847.2 950.5,854.9 958.5,864.2 966.5,861.0 974.5,865.4 982.5,867.5 990.5,876.7 998.5,869.2 1006.5,858.1 1014.5,846.4 1022.5,846.8 1030.5,852.8 1038.5,858.1 1046.5,857.1 1054.5,852.6 1062.5,851.5 1070.5,858.1 1078.5,868.3 1086.5,876.2 1094.5,877.8 1102.5,870.9 1110.5,862.3 1118.5,858.2 1126.5,861.8 1134.5,863.3 1142.5,858.8 1150.5,853.1 1158.5,852.4 1166.5,858.1 1174.5,866.8 1182.5,879.0 1190.5,885.0 1198.5,879.3 1206.5,861.1 1214.5,847.9 1222.5,842.0 1230.5,842.5 1238.5,840.1 1246.5,841.1 1254.5,849.5" fill="none" stroke="#ff0000" stroke-width="1" stroke-dasharray="3 3" shape-rendering="crispEdges"/><polyline points="-1.5,845.0 6.5,839.9 14.5,843.7 22.5,843.3 30.5,854.2 38.5,850.4 46.5,853.9 54.5,836.4 62.5,846.2 70.5,860.2 78.5,862.9 86.5,848.9 94.5,858.5 102.5,877.3 110.5,894.1 118.5,898.0 126.5,899.2 134.5,887.9 142.5,875.0 150.5,861.9 158.5,871.5 166.5,883.4 174.5,867.7 182.5,849.6 190.5,835.5 198.5,836.2 206.5,842.8 214.5,847.4 222.5,860.3 230.5,871.2 238.5,901.0 246.5,903.8 254.5,910.2 262.5,905.2 270.5,908.8 278.5,903.2 286.5,896.7 294.5,882.2 302.5,886.5 310.5,882.5 318.5,884.7 326.5,869.3 334.5,865.0 342.5,876.2 350.5,882.2 358.5,891.6 366.5,879.6 374.5,869.7 382.5,866.2 390.5,869.4 398.5,891.7 406.5,901.5 414.5,898.3 422.5,886.8 430.5,893.4 438.5,909.7 446.5,897.1 454.5,868.5 462.5,852.0 470.5,851.9 478.5,853.6 486.5,852.5 494.5,859.0 502.5,879.9 510.5,871.1 518.5,868.6 526.5,855.1 534.5,876.8 542.5,889.6 550.5,898.0 558.5,884.5 566.5,865.6 574.5,856.0 582.5,844.7 590.5,839.4 598.5,838.0 606.5,841.7 614.5,841.5 622.5,859.5 630.5,872.8 638.5,868.8 646.5,886.9 654.5,900.6 662.5,912.6 670.5,912.2 678.5,913.9 686.5,910.8 694.5,900.2 702.5,877.2 710.5,857.0 718.5,840.0 726.5,837.5 734.5,835.6 742.5,840.5 750.5,845.3 758.5,851.5 766.5,860.5 774.5,865.7 782.5,861.5 790.5,845.4 798.5,852.2 806.5,868.0 814.5,897.8 822.5,891.5 830.5,885.4 838.5,887.7 846.5,913.2 854.5,920.0 862.5,911.4 870.5,900.0 878.5,876.6 886.5,859.1 894.5,838.5 902.5,840.1 910.5,833.4 918.5,835.5 926.5,838.5 934.5,842.2 942.5,860.9 950.5,861.6 958.5,870.2 966.5,851.4 974.5,874.6 982.5,876.5 990.5,879.1 998.5,852.1 1006.5,843.2 1014.5,844.0 1022.5,853.1 1030.5,861.4 1038.5,859.9 1046.5,849.8 1054.5,848.1 1062.5,856.6 1070.5,869.5 1078.5,878.8 1086.5,880.3 1094.5,874.4 1102.5,858.1 1110.5,854.3 1118.5,862.1 1126.5,868.8 1134.5,859.1 1142.5,848.6 1150.5,851.8 1158.5,856.8 1166.5,865.7 1174.5,877.9 1182.5,893.4 1190.5,883.5 1198.5,860.8 1206.5,838.9 1214.5,844.0 1222.5,842.9 1230.5,840.6 1238.5,836.6 1246.5,846.1 1254.5,865.7" fill="none" stroke="#20b2aa" stroke-width="1" shape-rendering="crispEdges"/><g shape-rendering="crispEdges" fill="#000"><rect x="1587" y="0" width="1" height="826"/><rect x="0" y="825" width="1588" height="1"/><rect x="0" y="827" width="1588" height="1"/><rect x="1587" y="827" width="1" height="104"/><rect x="0" y="930" width="1588" height="1"/></g><path d="M435,89 L1051,89 A157,167 0 0 1 1208,256 L1208,410 A129,142 0 0 1 1079,552 L744,552 L744,398 L1053,398 L1053,243 L590,243 L590,861 L435,861 Z M744,706 L1053,706 L1130.5,861 L744,861 Z" fill="#e8edf5" style="mix-blend-mode:multiply"/><rect x="1588" y="22" width="2" height="1" fill="#000" shape-rendering="crispEdges"/><rect x="1588" y="71" width="2" height="1" fill="#000" shape-rendering="crispEdges"/><rect x="1588" y="120" width="2" height="1" fill="#000" shape-rendering="crispEdges"/><rect x="1588" y="169" width="2" height="1" fill="#000" shape-rendering="crispEdges"/><rect x="1588" y="218" width="2" height="1" fill="#000" shape-rendering="crispEdges"/><rect x="1588" y="267" width="2" height="1" fill="#000" shape-rendering="crispEdges"/><rect x="1588" y="316" width="2" height="1" fill="#000" shape-rendering="crispEdges"/><rect x="1588" y="365" width="2" height="1" fill="#000" shape-rendering="crispEdges"/><rect x="1588" y="414" width="2" height="1" fill="#000" shape-rendering="crispEdges"/><rect x="1588" y="463" width="2" height="1" fill="#000" shape-rendering="crispEdges"/><rect x="1588" y="512" width="2" height="1" fill="#000" shape-rendering="crispEdges"/><rect x="1588" y="561" width="2" height="1" fill="#000" shape-rendering="crispEdges"/><rect x="1588" y="610" width="2" height="1" fill="#000" shape-rendering="crispEdges"/><rect x="1588" y="659" width="2" height="1" fill="#000" shape-rendering="crispEdges"/><rect x="1588" y="708" width="2" height="1" fill="#000" shape-rendering="crispEdges"/><rect x="1588" y="757" width="2" height="1" fill="#000" shape-rendering="crispEdges"/><rect x="1588" y="806" width="2" height="1" fill="#000" shape-rendering="crispEdges"/><g font-family='"Liberation Sans", sans-serif' font-size="12" letter-spacing="0.3" stroke="#000" stroke-width="0.2"><text x="1594" y="27" fill="#000" textLength="45.3" lengthAdjust="spacing">3998.85</text><text x="1594" y="76" fill="#000" textLength="45.3" lengthAdjust="spacing">3984.35</text><text x="1594" y="125" fill="#000" textLength="45.3" lengthAdjust="spacing">3969.85</text><text x="1594" y="174" fill="#000" textLength="45.3" lengthAdjust="spacing">3955.35</text><text x="1594" y="223" fill="#000" textLength="45.3" lengthAdjust="spacing">3940.85</text><text x="1594" y="272" fill="#000" textLength="45.3" lengthAdjust="spacing">3926.35</text><text x="1594" y="321" fill="#000" textLength="45.3" lengthAdjust="spacing">3911.85</text><text x="1594" y="370" fill="#000" textLength="45.3" lengthAdjust="spacing">3897.35</text><text x="1594" y="419" fill="#000" textLength="45.3" lengthAdjust="spacing">3882.85</text><text x="1594" y="468" fill="#000" textLength="45.3" lengthAdjust="spacing">3868.35</text><text x="1594" y="517" fill="#000" textLength="45.3" lengthAdjust="spacing">3853.85</text><text x="1594" y="566" fill="#000" textLength="45.3" lengthAdjust="spacing">3839.60</text><text x="1594" y="615" fill="#000" textLength="45.3" lengthAdjust="spacing">3825.10</text><text x="1594" y="664" fill="#000" textLength="45.3" lengthAdjust="spacing">3810.60</text><text x="1594" y="713" fill="#000" textLength="45.3" lengthAdjust="spacing">3796.10</text><text x="1594" y="762" fill="#000" textLength="45.3" lengthAdjust="spacing">3781.60</text><text x="1594" y="811" fill="#000" textLength="45.3" lengthAdjust="spacing">3767.10</text><text x="1591" y="841.5" fill="#000">100</text><text x="1591" y="854.0" fill="#000">80</text><text x="1591" y="914.5" fill="#000">20</text><text x="1591" y="927.5" fill="#000">0</text></g><g font-family='"Liberation Sans", sans-serif' font-size="12" letter-spacing="0.3"><rect x="1589" y="10" width="53" height="14" fill="#0000ff"/><text x="1594" y="21.2" fill="#fff" textLength="45.3" lengthAdjust="spacing">4000.55</text><rect x="1589" y="198" width="53" height="14" fill="#0000ff"/><text x="1594" y="209.2" fill="#fff" textLength="45.3" lengthAdjust="spacing">3945.05</text><rect x="1589" y="350" width="53" height="14" fill="#0000ff"/><text x="1594" y="361.2" fill="#fff" textLength="45.3" lengthAdjust="spacing">3900.01</text><rect x="1589" y="619" width="53" height="14" fill="#0000ff"/><text x="1594" y="630.2" fill="#fff" textLength="45.3" lengthAdjust="spacing">3820.63</text><rect x="1589" y="689" width="53" height="14" fill="#0000ff"/><text x="1594" y="700.2" fill="#fff" textLength="45.3" lengthAdjust="spacing">3800.01</text><rect x="1589" y="249" width="53" height="14" fill="#000"/><text x="1594" y="261.2" fill="#fff" textLength="45.3" lengthAdjust="spacing">3929.73</text></g><rect x="94" y="931" width="1" height="4" fill="#000" shape-rendering="crispEdges"/><rect x="190" y="931" width="1" height="4" fill="#000" shape-rendering="crispEdges"/><rect x="286" y="931" width="1" height="4" fill="#000" shape-rendering="crispEdges"/><rect x="382" y="931" width="1" height="4" fill="#000" shape-rendering="crispEdges"/><rect x="478" y="931" width="1" height="4" fill="#000" shape-rendering="crispEdges"/><rect x="574" y="931" width="1" height="4" fill="#000" shape-rendering="crispEdges"/><rect x="670" y="931" width="1" height="4" fill="#000" shape-rendering="crispEdges"/><rect x="766" y="931" width="1" height="4" fill="#000" shape-rendering="crispEdges"/><rect x="862" y="931" width="1" height="4" fill="#000" shape-rendering="crispEdges"/><rect x="958" y="931" width="1" height="4" fill="#000" shape-rendering="crispEdges"/><rect x="1054" y="931" width="1" height="4" fill="#000" shape-rendering="crispEdges"/><rect x="1150" y="931" width="1" height="4" fill="#000" shape-rendering="crispEdges"/><rect x="1246" y="931" width="1" height="4" fill="#000" shape-rendering="crispEdges"/><g font-family='"Liberation Sans", sans-serif' font-size="12" letter-spacing="0.55" stroke="#000" stroke-width="0.2"><text x="-2" y="945.5" fill="#000" textLength="70" lengthAdjust="spacing">30 Sep 2025</text><text x="93" y="945.5" fill="#000" textLength="67.3" lengthAdjust="spacing">1 Oct 05:00</text><text x="189" y="945.5" fill="#000" textLength="67.3" lengthAdjust="spacing">1 Oct 11:00</text><text x="285" y="945.5" fill="#000" textLength="67.3" lengthAdjust="spacing">1 Oct 17:00</text><text x="381" y="945.5" fill="#000" textLength="67.3" lengthAdjust="spacing">1 Oct 23:00</text><text x="477" y="945.5" fill="#000" textLength="67.3" lengthAdjust="spacing">2 Oct 06:00</text><text x="573" y="945.5" fill="#000" textLength="67.3" lengthAdjust="spacing">2 Oct 12:00</text><text x="669" y="945.5" fill="#000" textLength="67.3" lengthAdjust="spacing">2 Oct 18:00</text><text x="765" y="945.5" fill="#000" textLength="67.3" lengthAdjust="spacing">3 Oct 01:00</text><text x="861" y="945.5" fill="#000" textLength="67.3" lengthAdjust="spacing">3 Oct 07:00</text><text x="957" y="945.5" fill="#000" textLength="67.3" lengthAdjust="spacing">3 Oct 13:00</text><text x="1053" y="945.5" fill="#000" textLength="67.3" lengthAdjust="spacing">3 Oct 19:00</text><text x="1149" y="945.5" fill="#000" textLength="67.3" lengthAdjust="spacing">6 Oct 02:00</text><text x="1245" y="945.5" fill="#000" textLength="67.3" lengthAdjust="spacing">6 Oct 08:00</text></g><path d="M0,925.5 L0,930 L4.5,930 Z" fill="#c0c0c0"/><path d="M1.5,4 L10.5,4 L6,9 Z" fill="#000"/><g font-family='"Liberation Sans", sans-serif' font-size="12" fill="#000" stroke="#000" stroke-width="0.2"><text x="16" y="11" textLength="73" lengthAdjust="spacing">XAUUSD,M30</text><text x="97" y="11" textLength="45.5" lengthAdjust="spacing">3937.08</text><text x="147.2" y="11" textLength="45.5" lengthAdjust="spacing">3937.25</text><text x="196.9" y="11" textLength="45.5" lengthAdjust="spacing">3929.65</text><text x="246.6" y="11" textLength="45.5" lengthAdjust="spacing">3929.73</text></g><text x="2" y="843" font-family='"Liberation Sans", sans-serif' font-size="12" textLength="170.5" lengthAdjust="spacing" fill="#000" stroke="#000" stroke-width="0.2" xml:space="preserve">Stoch(5,3,3) 64.0176 80.0312</text></svg>
</body></html>
